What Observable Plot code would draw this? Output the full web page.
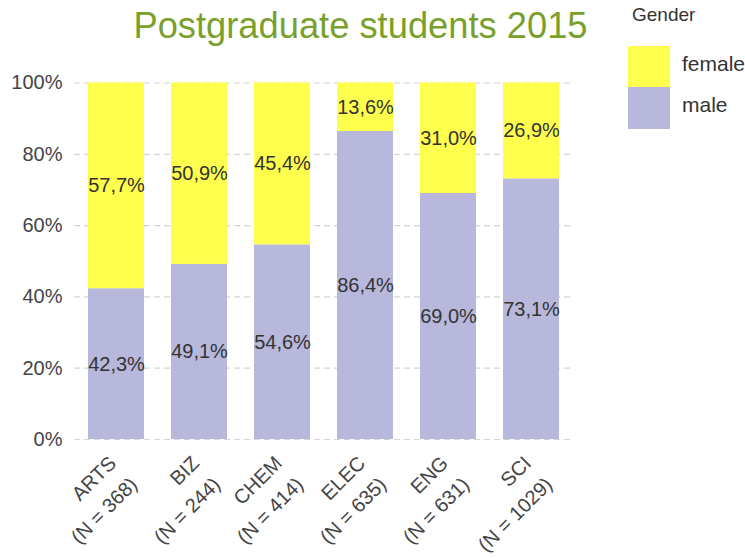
<!DOCTYPE html>
<html>
<head>
<meta charset="utf-8">
<script src="https://cdn.jsdelivr.net/npm/d3@7"></script>
<script src="https://cdn.jsdelivr.net/npm/@observablehq/plot@0.6"></script>
<style>
  body { margin: 0; background: white; font-family: "Liberation Sans", Arial, sans-serif; }
  #wrap { position: relative; width: 745px; height: 558px; overflow: hidden; }
  #title { position: absolute; left: 0; width: 721px; top: 8.3px; text-align: center; font-size: 36.3px; line-height: 36px; color: #7aa02c; white-space: nowrap; }
  #legend-title { position: absolute; left: 632px; top: 4.5px; font-size: 19px; line-height: 19px; color: #333; }
  .key { position: absolute; left: 628px; width: 42px; }
  .klab { position: absolute; left: 682px; font-size: 21px; line-height: 21px; color: #333; }
</style>
</head>
<body>
<div id="wrap">
  <div id="chart"></div>
  <div id="title">Postgraduate students 2015</div>
  <div id="legend"></div>
</div>
<script>
const depts = ["ARTS", "BIZ", "CHEM", "ELEC", "ENG", "SCI"];
const counts = [368, 244, 414, 635, 631, 1029];
const male = [42.3, 49.1, 54.6, 86.4, 69.0, 73.1];
const female = [57.7, 50.9, 45.4, 13.6, 31.0, 26.9];
const genders = ["male", "female"];
const genderColors = ["#b8b8dc", "#ffff4d"];
const yTicks = [0, 20, 40, 60, 80, 100];
const legendTitle = "Gender";

const data = depts.flatMap((d, i) => [
  {dept: d, gender: "male", value: male[i]},
  {dept: d, gender: "female", value: female[i]}
]);

const fmt = v => v.toFixed(1).replace(".", ",") + "%";

const chart = Plot.plot({
  width: 745,
  height: 558,
  marginLeft: 74,
  marginRight: 172,
  marginTop: 82.5,
  marginBottom: 119,
  style: {fontFamily: "'Liberation Sans', Arial, sans-serif", background: "white", overflow: "visible"},
  x: {domain: depts, paddingInner: 0.33, paddingOuter: 0.165},
  y: {domain: [0, 100]},
  color: {domain: genders, range: genderColors},
  marks: [
    Plot.gridY(yTicks, {stroke: "#d4d4d4", strokeOpacity: 1, strokeWidth: 1.2, strokeDasharray: "6,4"}),
    Plot.axisY(yTicks, {tickSize: 0, tickPadding: 12, fontSize: 20, fill: "#444", tickFormat: d => d + "%", label: null}),
    Plot.barY(data, {x: "dept", y: "value", fill: "gender"}),
    Plot.text(data, Plot.stackY({x: "dept", y: "value", text: d => fmt(d.value), fontSize: 20, fill: "#333"})),
    Plot.axisX({
      tickSize: 0, tickPadding: 0, tickRotate: -45,
      textAnchor: "end", lineAnchor: "top", dx: -14.2, dy: 9.9,
      fontSize: 20, lineHeight: 1.5, fill: "#444", label: null,
      tickFormat: d => `${d}\n(N = ${counts[depts.indexOf(d)]})`
    })
  ]
});
document.getElementById("chart").appendChild(chart);

const legend = document.getElementById("legend");
const lt = document.createElement("div");
lt.id = "legend-title";
lt.textContent = legendTitle;
legend.appendChild(lt);
// legend ordered top to bottom: female, male
const order = ["female", "male"];
const tops = [46, 87];
order.forEach((g, i) => {
  const k = document.createElement("div");
  k.className = "key";
  k.style.top = tops[i] + "px";
  k.style.height = (i === 0 ? 41 : 42) + "px";
  k.style.background = genderColors[genders.indexOf(g)];
  legend.appendChild(k);
  const l = document.createElement("div");
  l.className = "klab";
  l.style.top = (i === 0 ? 53 : 94) + "px";
  l.textContent = g;
  legend.appendChild(l);
});
</script>
</body>
</html>
